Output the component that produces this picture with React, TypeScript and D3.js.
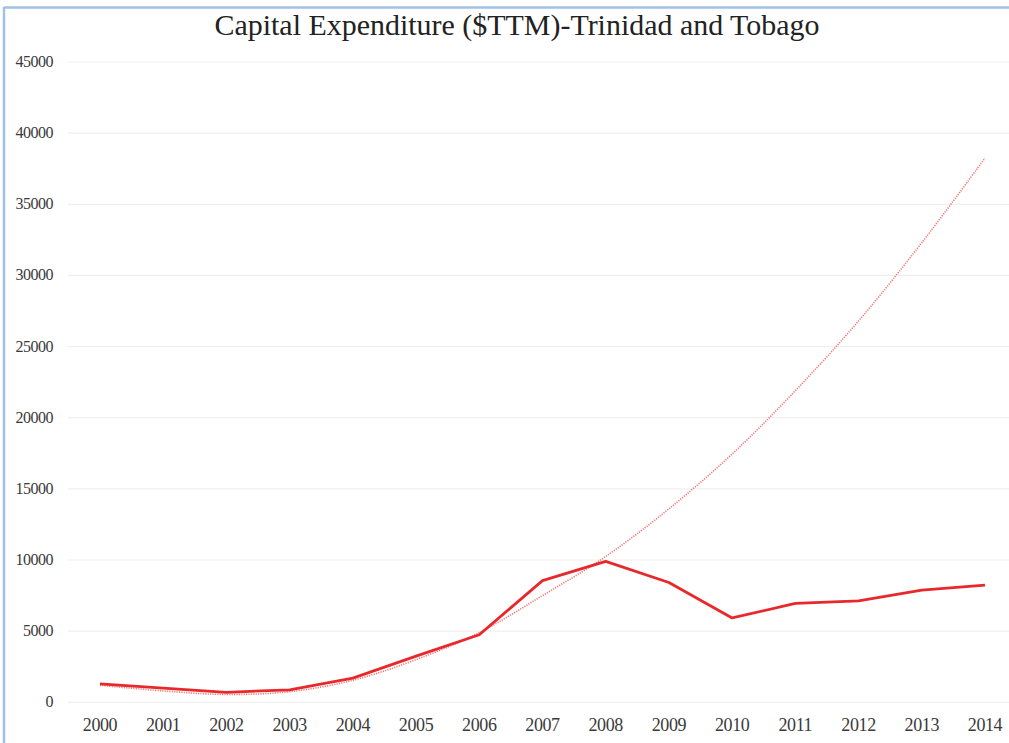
import React from "react";
import * as d3 from "d3";

const years = ["2000","2001","2002","2003","2004","2005","2006","2007","2008","2009","2010","2011","2012","2013","2014"];
const capex = [1300, 1000, 700, 880, 1700, 3250, 4750, 8550, 9900, 8420, 5930, 6950, 7130, 7890, 8240];
const trend = [1200, 800, 550, 750, 1550, 3000, 4900, 7500, 10250, 13600, 17450, 21900, 26800, 32300, 38250];
const yTicks = [0, 5000, 10000, 15000, 20000, 25000, 30000, 35000, 40000, 45000];
const title = "Capital Expenditure ($TTM)-Trinidad and Tobago";

const W = 1009, H = 743;

export default function App() {
  const x = d3.scalePoint<string>().domain(years).range([100, 985]);
  const y = d3.scaleLinear().domain([0, 45000]).range([702.3, 62]);
  const line = d3.line<number>().x((_, i) => x(years[i]) as number).y((d) => y(d));
  const trendLine = d3.line<number>().x((_, i) => x(years[i]) as number).y((d) => y(d)).curve(d3.curveCatmullRom);
  const serif = "'Liberation Serif', 'DejaVu Serif', serif";
  return (
    <svg width={W} height={H} style={{ position: "absolute", left: 0, top: 0, background: "#fff" }}>
      <rect x={0} y={0} width={W} height={H} fill="#fff" />
      <line x1={4} y1={7.5} x2={W} y2={7.5} stroke="#9fc2e7" strokeWidth={2.5} />
      <line x1={4} y1={7} x2={4} y2={H} stroke="#9fc2e7" strokeWidth={2.5} />
      <text x={517} y={35} textAnchor="middle" fontFamily={serif} fontSize={30} fill="#222" textLength={605} lengthAdjust="spacingAndGlyphs">{title}</text>
      {yTicks.map((t) => (
        <g key={t}>
          <line x1={68} x2={W} y1={y(t)} y2={y(t)} stroke="#efefef" strokeWidth={1.2} />
          <text x={53} y={y(t) + 5} textAnchor="end" fontFamily={serif} fontSize={16} fill="#3a3a3a" letterSpacing={-0.5}>{t}</text>
        </g>
      ))}
      {years.map((yr) => (
        <text key={yr} x={x(yr)} y={731} textAnchor="middle" fontFamily={serif} fontSize={18} fill="#3a3a3a" letterSpacing={-0.4}>{yr}</text>
      ))}
      <path d={trendLine(trend) || ""} fill="none" stroke="#f06060" strokeWidth={1.6} strokeDasharray="1.2 1.2" opacity={0.85} />
      <path d={line(capex) || ""} fill="none" stroke="#e8292b" strokeWidth={2.8} strokeLinejoin="round" />
    </svg>
  );
}
